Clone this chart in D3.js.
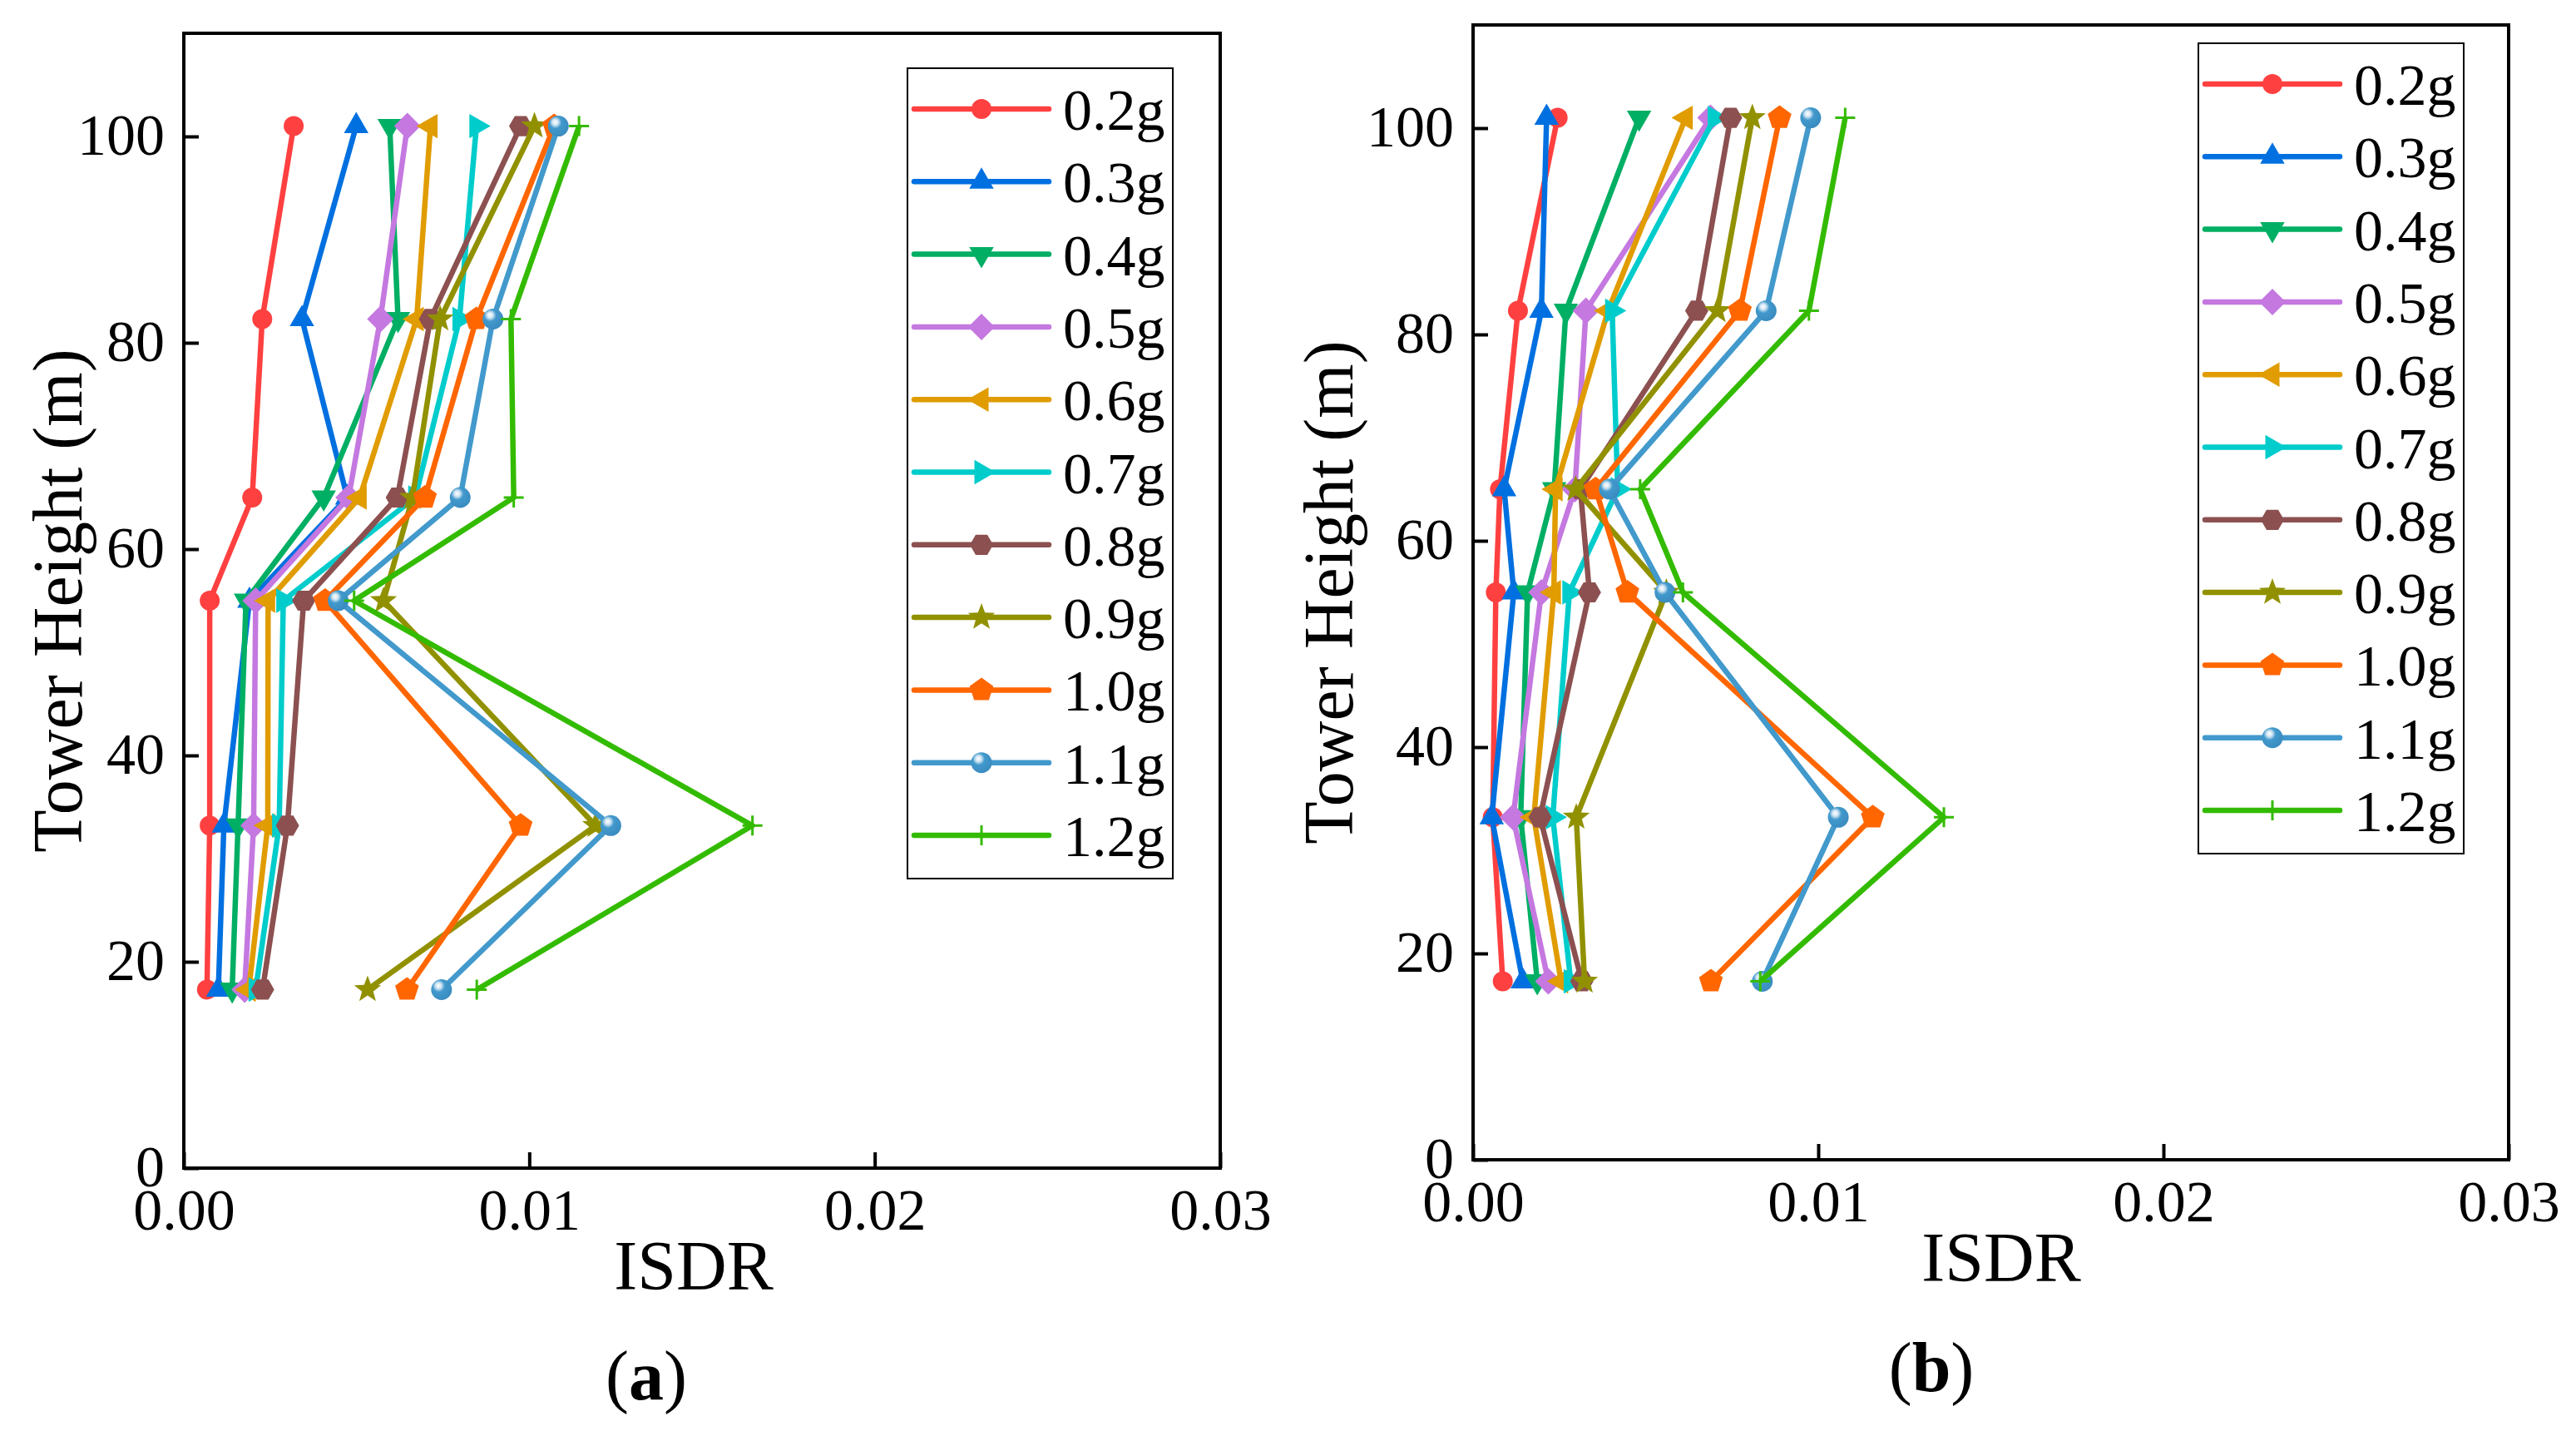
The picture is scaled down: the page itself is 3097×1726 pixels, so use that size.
<!DOCTYPE html>
<html>
<head>
<meta charset="utf-8">
<script src="https://cdn.jsdelivr.net/npm/d3@7"></script>
<style>
  body { margin: 0; background: #fff; }
  text { font-family: "Liberation Serif", "Times New Roman", serif; fill: #000; }
</style>
</head>
<body>
<div id="chart"></div>
<script>
// data
var heights = [17.3, 33.2, 55, 65, 82.3, 101];   // storey heights (m)
var seriesNames = ["0.2g", "0.3g", "0.4g", "0.5g", "0.6g", "0.7g", "0.8g", "0.9g", "1.0g", "1.1g", "1.2g"];
var seriesColors = ["#FF4040", "#0070E0", "#00AF64", "#C478E0", "#E09C00", "#00CCCC",
                    "#8C5050", "#919100", "#FF6600", "#4299CC", "#33BB00"];
var seriesSymbols = ["circle", "triUp", "triDown", "diamond", "triLeft", "triRight",
                     "hexagon", "star", "pentagon", "sphere", "plus"];
var xTicks = [0, 0.01, 0.02, 0.03];
var yTicks = [0, 20, 40, 60, 80, 100];

// panel (a) ISDR, one row per series, values in heights order
var isdrA = [
  [0.00067, 0.00075, 0.00075, 0.00198, 0.00227, 0.00318],
  [0.00100, 0.00116, 0.00190, 0.00473, 0.00342, 0.00499],
  [0.00140, 0.00157, 0.00180, 0.00405, 0.00620, 0.00596],
  [0.00176, 0.00202, 0.00208, 0.00477, 0.00569, 0.00647],
  [0.00188, 0.00243, 0.00244, 0.00509, 0.00674, 0.00714],
  [0.00208, 0.00276, 0.00288, 0.00670, 0.00798, 0.00847],
  [0.00228, 0.00300, 0.00347, 0.00618, 0.00714, 0.00975],
  [0.00532, 0.01192, 0.00578, 0.00662, 0.00742, 0.01015],
  [0.00646, 0.00975, 0.00409, 0.00698, 0.00847, 0.01072],
  [0.00746, 0.01236, 0.00447, 0.00800, 0.00895, 0.01084],
  [0.00848, 0.01646, 0.00493, 0.00955, 0.00947, 0.01144]
];

// panel (b) ISDR
var isdrB = [
  [0.00086, 0.00057, 0.00066, 0.00078, 0.00130, 0.00245],
  [0.00144, 0.00054, 0.00118, 0.00090, 0.00198, 0.00213],
  [0.00186, 0.00138, 0.00158, 0.00235, 0.00269, 0.00481],
  [0.00218, 0.00116, 0.00198, 0.00295, 0.00327, 0.00688],
  [0.00255, 0.00176, 0.00234, 0.00239, 0.00391, 0.00616],
  [0.00283, 0.00231, 0.00279, 0.00419, 0.00403, 0.00700],
  [0.00315, 0.00194, 0.00337, 0.00311, 0.00648, 0.00746],
  [0.00323, 0.00299, 0.00560, 0.00297, 0.00708, 0.00809],
  [0.00689, 0.01158, 0.00447, 0.00355, 0.00773, 0.00888],
  [0.00838, 0.01058, 0.00556, 0.00395, 0.00849, 0.00978],
  [0.00832, 0.01364, 0.00608, 0.00484, 0.00973, 0.01078]
];

// svg container
var svgWidth = 3097;
var svgHeight = 1726;

var svg = d3.select("#chart").append("svg")
  .attr("width", svgWidth)
  .attr("height", svgHeight);

svg.append("rect")
  .attr("width", svgWidth)
  .attr("height", svgHeight)
  .attr("fill", "#fff");

// sphere gradient for the 1.1g symbol
var grad = svg.append("defs").append("radialGradient")
  .attr("id", "sphere")
  .attr("cx", "38%").attr("cy", "35%").attr("r", "65%")
  .attr("fx", "35%").attr("fy", "30%");
grad.append("stop").attr("offset", "0%").attr("stop-color", "#ffffff");
grad.append("stop").attr("offset", "22%").attr("stop-color", "#cfe4f2");
grad.append("stop").attr("offset", "45%").attr("stop-color", "#4299CC");
grad.append("stop").attr("offset", "100%").attr("stop-color", "#3a8cc0");

// symbol shapes, size = radius squared
function polygon(n, startDeg) {
  return {
    draw: function(ctx, size) {
      var r = Math.sqrt(size);
      for (var i = 0; i < n; i++) {
        var a = (startDeg + i * 360 / n) * Math.PI / 180;
        if (i === 0) ctx.moveTo(r * Math.cos(a), r * Math.sin(a));
        else ctx.lineTo(r * Math.cos(a), r * Math.sin(a));
      }
      ctx.closePath();
    }
  };
}

var starType = {
  draw: function(ctx, size) {
    var r = Math.sqrt(size), ri = r * 0.42;
    for (var i = 0; i < 10; i++) {
      var a = (-90 + i * 36) * Math.PI / 180;
      var rr = i % 2 === 0 ? r : ri;
      if (i === 0) ctx.moveTo(rr * Math.cos(a), rr * Math.sin(a));
      else ctx.lineTo(rr * Math.cos(a), rr * Math.sin(a));
    }
    ctx.closePath();
  }
};

var circleType = {
  draw: function(ctx, size) {
    var r = Math.sqrt(size);
    ctx.moveTo(r, 0);
    ctx.arc(0, 0, r, 0, 2 * Math.PI);
  }
};

var plusType = {
  draw: function(ctx, size) {
    var r = Math.sqrt(size);
    ctx.moveTo(-r, 0); ctx.lineTo(r, 0);
    ctx.moveTo(0, -r); ctx.lineTo(0, r);
  }
};

var symbolTypes = {
  circle:   { type: circleType, r: 12 },
  triUp:    { type: polygon(3, -90), r: 17 },
  triDown:  { type: polygon(3, 90), r: 17 },
  diamond:  { type: polygon(4, 0), r: 16 },
  triLeft:  { type: polygon(3, 180), r: 17 },
  triRight: { type: polygon(3, 0), r: 17 },
  hexagon:  { type: polygon(6, 0), r: 14 },
  star:     { type: starType, r: 17 },
  pentagon: { type: polygon(5, -90), r: 15 },
  sphere:   { type: circleType, r: 12.5 },
  plus:     { type: plusType, r: 12 }
};

function drawSymbol(g, name, color, x, y) {
  var s = symbolTypes[name];
  var p = g.append("path")
    .attr("d", d3.symbol().type(s.type).size(s.r * s.r)())
    .attr("transform", `translate(${x}, ${y})`);
  if (name === "plus") {
    p.attr("fill", "none").attr("stroke", color).attr("stroke-width", 3);
  } else if (name === "sphere") {
    p.attr("fill", "url(#sphere)");
  } else {
    p.attr("fill", color);
  }
}

// one panel
function drawPanel(cfg) {
  var width = cfg.width, height = cfg.height;

  var g = svg.append("g")
    .attr("transform", `translate(${cfg.left}, ${cfg.top})`);

  var xScale = d3.scaleLinear().domain([0, 0.03]).range([0, width]);
  var yScale = d3.scaleLinear().domain([0, 110]).range([height, 0]);

  var xAxis = d3.axisBottom(xScale)
    .tickValues(xTicks)
    .tickFormat(d3.format(".2f"))
    .tickSizeInner(-19)
    .tickSizeOuter(0)
    .tickPadding(24);

  var yAxis = d3.axisLeft(yScale)
    .tickValues(yTicks)
    .tickFormat(d3.format("d"))
    .tickSizeInner(-18)
    .tickSizeOuter(0)
    .tickPadding(23);

  var xg = g.append("g")
    .attr("transform", `translate(0, ${height})`)
    .call(xAxis);
  var yg = g.append("g").call(yAxis);

  [xg, yg].forEach(function(ax) {
    ax.select(".domain").remove();
    ax.selectAll(".tick line").attr("stroke", "#000").attr("stroke-width", 4);
    ax.selectAll(".tick text")
      .attr("fill", "#000")
      .style("font-family", "'Liberation Serif', serif")
      .style("font-size", "70px");
  });
  yg.selectAll(".tick text").attr("dy", "0.30em");

  // series: line then markers, in legend order
  var line = d3.line()
    .x(function(d) { return xScale(d.v); })
    .y(function(d) { return yScale(d.h); });

  cfg.data.forEach(function(vals, i) {
    var pts = vals.map(function(v, j) { return { v: v, h: heights[j] }; });
    var sg = g.append("g");
    sg.append("path")
      .datum(pts)
      .attr("d", line)
      .attr("fill", "none")
      .attr("stroke", seriesColors[i])
      .attr("stroke-width", 6.5)
      .attr("stroke-linejoin", "round");
    pts.forEach(function(p) {
      drawSymbol(sg, seriesSymbols[i], seriesColors[i], xScale(p.v), yScale(p.h));
    });
  });

  // frame
  g.append("rect")
    .attr("width", width)
    .attr("height", height)
    .attr("fill", "none")
    .attr("stroke", "#000")
    .attr("stroke-width", 4);

  // legend
  var lg = g.append("g")
    .attr("transform", `translate(${cfg.legendX}, ${cfg.legendY})`);
  lg.append("rect")
    .attr("width", 319)
    .attr("height", 974)
    .attr("fill", "#fff")
    .attr("stroke", "#000")
    .attr("stroke-width", 2);
  seriesNames.forEach(function(name, i) {
    var ry = 49 + i * 87.3;
    lg.append("line")
      .attr("x1", 8).attr("x2", 170)
      .attr("y1", ry).attr("y2", ry)
      .attr("stroke", seriesColors[i])
      .attr("stroke-width", 6.5)
      .attr("stroke-linecap", "round");
    drawSymbol(lg, seriesSymbols[i], seriesColors[i], 89, ry);
    lg.append("text")
      .attr("x", 187)
      .attr("y", ry + 25)
      .style("font-size", "70px")
      .text(name);
  });

  // axes labels
  g.append("text")
    .attr("transform", `translate(${cfg.yTitleX}, ${height / 2}) rotate(-90)`)
    .attr("text-anchor", "middle")
    .attr("dy", "0.33em")
    .style("font-size", "84px")
    .text("Tower Height (m)");

  g.append("text")
    .attr("x", cfg.xTitleX)
    .attr("y", height + 146)
    .attr("text-anchor", "middle")
    .style("font-size", "84px")
    .text("ISDR");

  // panel letter
  var pl = g.append("text")
    .attr("x", cfg.letterX)
    .attr("y", height + 278)
    .attr("text-anchor", "middle")
    .style("font-size", "84px");
  pl.append("tspan").text("(");
  pl.append("tspan").style("font-weight", "bold").text(cfg.letter);
  pl.append("tspan").text(")");
}

drawPanel({
  left: 221, top: 40, width: 1246, height: 1364,
  data: isdrA,
  legendX: 870, legendY: 42,
  yTitleX: -151, xTitleX: 613, letterX: 556, letter: "a"
});

drawPanel({
  left: 1771, top: 30, width: 1245, height: 1364,
  data: isdrB,
  legendX: 872, legendY: 22,
  yTitleX: -173, xTitleX: 635, letterX: 551, letter: "b"
});
</script>
</body>
</html>
